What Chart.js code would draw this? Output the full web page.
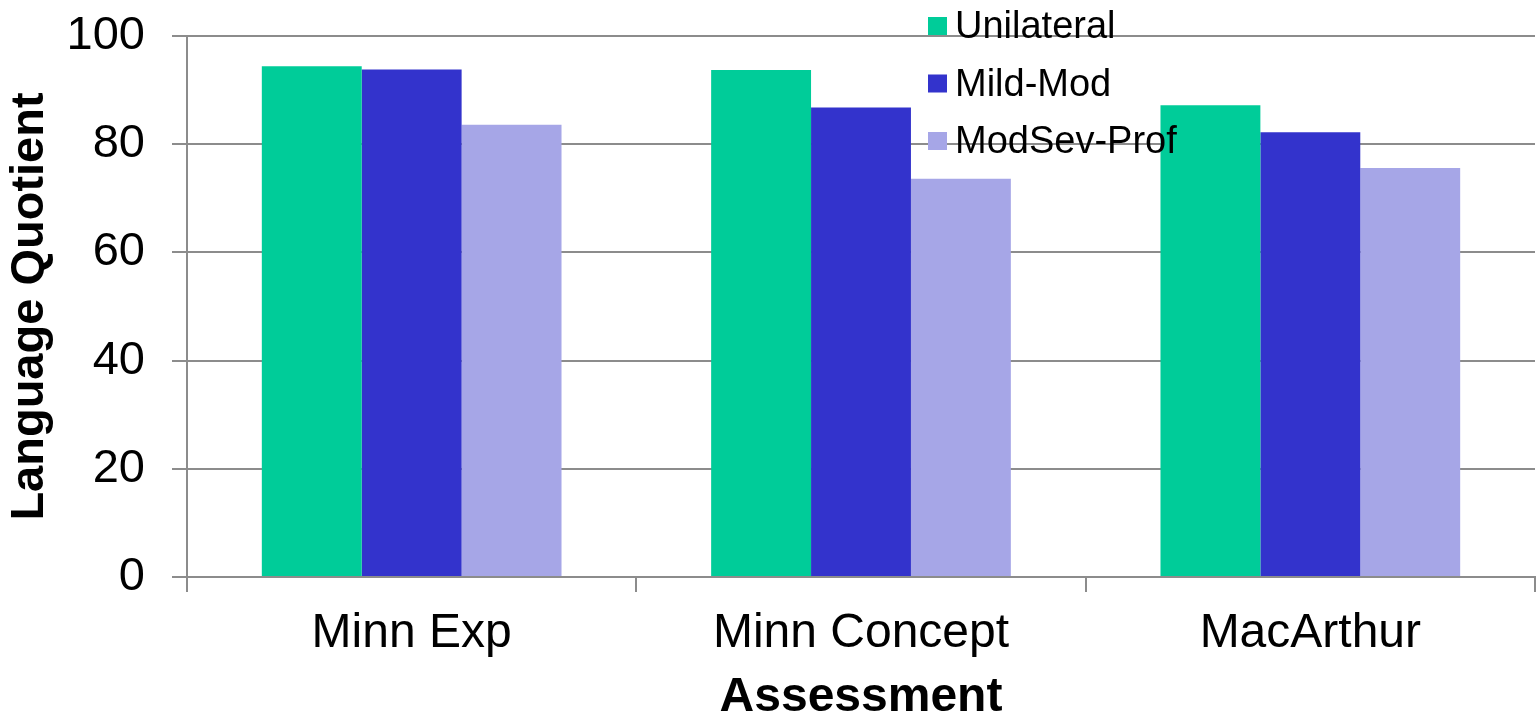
<!DOCTYPE html>
<html>
<head>
<meta charset="utf-8">
<script src="https://cdn.jsdelivr.net/npm/chart.js@4.4.1/dist/chart.umd.min.js"></script>
<style>
  html, body { margin: 0; padding: 0; background: #ffffff; }
  #wrap { width: 1537px; height: 717px; position: relative; }
</style>
</head>
<body>
<div id="wrap"><canvas id="c" width="1537" height="717"></canvas></div>
<script>
const categories = ['Minn Exp', 'Minn Concept', 'MacArthur'];
const seriesNames = ['Unilateral', 'Mild-Mod', 'ModSev-Prof'];
const unilateral = [94.4, 93.7, 87.2];
const mildMod = [93.8, 86.8, 82.2];
const modSevProf = [83.6, 73.6, 75.6];
const seriesColors = ['#00CC99', '#3333CC', '#A6A6E7'];
const yTicks = [0, 20, 40, 60, 80, 100];

const FONT = '"Liberation Sans", Arial, sans-serif';
const GRID = '#8c8c8c';

const legendPlugin = {
  id: 'customLegend',
  afterDraw(chart) {
    const ctx = chart.ctx;
    ctx.save();
    chart.data.datasets.forEach((ds, i) => {
      const base = 38 + i * 57.5;
      ctx.fillStyle = ds.backgroundColor;
      ctx.fillRect(928, base - 21, 19, 18);
      ctx.fillStyle = '#000';
      ctx.font = '38px ' + FONT;
      ctx.textBaseline = 'alphabetic';
      ctx.textAlign = 'left';
      ctx.fillText(ds.label, 955, base);
    });
    ctx.restore();
  }
};

new Chart(document.getElementById('c'), {
  type: 'bar',
  data: {
    labels: categories,
    datasets: [
      { label: seriesNames[0], data: unilateral, backgroundColor: seriesColors[0] },
      { label: seriesNames[1], data: mildMod, backgroundColor: seriesColors[1] },
      { label: seriesNames[2], data: modSevProf, backgroundColor: seriesColors[2] }
    ]
  },
  options: {
    responsive: false,
    animation: false,
    devicePixelRatio: 1,
    layout: { padding: { left: 2, right: 2, top: 36, bottom: 0 } },
    datasets: { bar: { categoryPercentage: 0.667, barPercentage: 1.0, borderWidth: 0 } },
    plugins: { legend: { display: false }, tooltip: { enabled: false } },
    scales: {
      x: {
        grid: { display: true, drawOnChartArea: false, drawTicks: true, tickLength: 15, color: GRID, lineWidth: 2, offset: true },
        border: { display: true, color: GRID, width: 2 },
        ticks: { color: '#000', font: { family: FONT, size: 48 }, padding: 13, maxRotation: 0 },
        title: { display: true, text: 'Assessment', color: '#000', font: { family: FONT, size: 48, weight: 'bold', lineHeight: 0.8 }, padding: 0 },
        afterFit(scale) { scale.height = 140; scale.paddingLeft = 0; scale.paddingRight = 0; }
      },
      y: {
        min: 0, max: 100,
        afterBuildTicks(scale) { scale.ticks = yTicks.map(v => ({ value: v })); },
        grid: { color: GRID, lineWidth: 2, tickLength: 15, drawTicks: true },
        border: { display: true, color: GRID, width: 2 },
        ticks: { color: '#000', font: { family: FONT, size: 47 }, padding: 27 },
        title: { display: true, text: 'Language Quotient', color: '#000', font: { family: FONT, size: 47, weight: 'bold' }, padding: 0 },
        afterFit(scale) { scale.width = 185; scale.paddingTop = 0; scale.paddingBottom = 0; }
      }
    }
  },
  plugins: [legendPlugin]
});
</script>
</body>
</html>
